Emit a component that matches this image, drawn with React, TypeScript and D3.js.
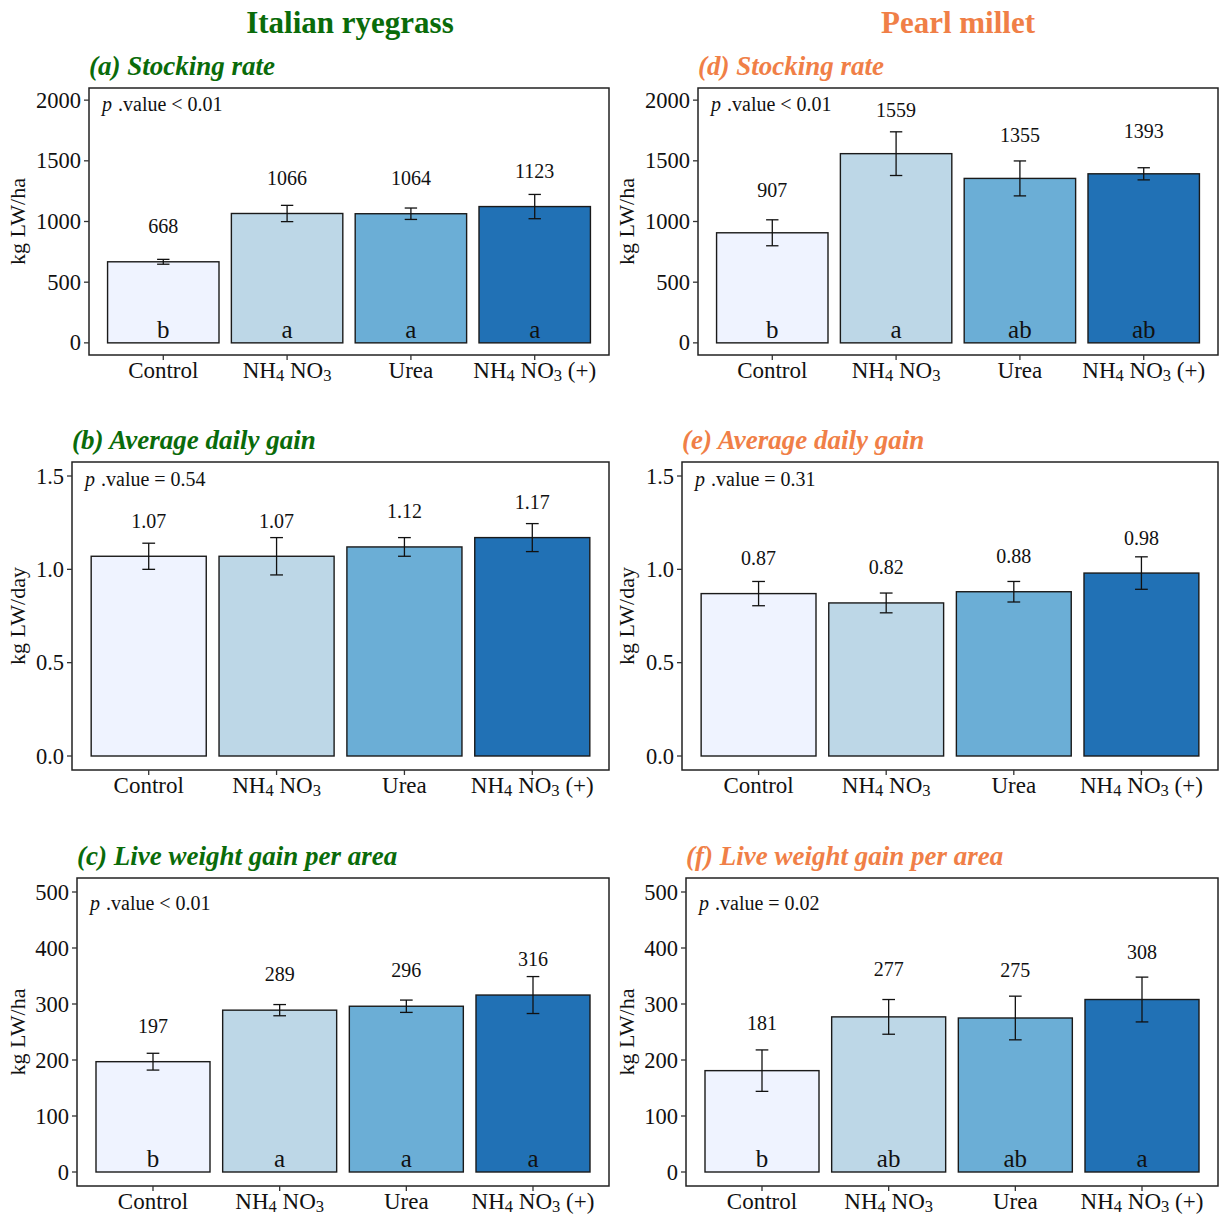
import * as d3 from "d3";

// treatments shared by every panel
const treatments = ["Control", "NH4 NO3", "Urea", "NH4 NO3 (+)"];
const fills = ["#EFF3FF", "#BDD7E7", "#6BAED6", "#2171B5"];

// Italian ryegrass
const ryeStockMean = [668, 1066, 1064, 1123];
const ryeStockSe = [20, 67, 47, 100];
const ryeStockLetters = ["b", "a", "a", "a"];
const ryeAdgMean = [1.07, 1.07, 1.12, 1.17];
const ryeAdgSe = [0.07, 0.1, 0.05, 0.075];
const ryeGainMean = [197, 289, 296, 316];
const ryeGainSe = [15, 10, 11, 33];
const ryeGainLetters = ["b", "a", "a", "a"];

// Pearl millet
const milletStockMean = [907, 1559, 1355, 1393];
const milletStockSe = [107, 180, 144, 50];
const milletStockLetters = ["b", "a", "ab", "ab"];
const milletAdgMean = [0.87, 0.82, 0.88, 0.98];
const milletAdgSe = [0.065, 0.053, 0.055, 0.087];
const milletGainMean = [181, 277, 275, 308];
const milletGainSe = [37, 31, 39, 40];
const milletGainLetters = ["b", "ab", "ab", "a"];

const stockTicks = [0, 500, 1000, 1500, 2000];
const adgTicks = [0, 0.5, 1.0, 1.5];
const gainTicks = [0, 100, 200, 300, 400, 500];

const GREEN = "#0a6b0a";
const ORANGE = "#f07f47";
const FONT = "'Liberation Serif', 'Times New Roman', serif";

const panels = [
  { title: "(a) Stocking rate", color: GREEN, mean: ryeStockMean, se: ryeStockSe, letters: ryeStockLetters,
    ticks: stockTicks, tickFmt: "d", valFmt: "d", pval: "< 0.01", pY: 1965, labelOff: 293, ylab: "kg LW/ha",
    left: 89, right: 609, top: 88, bottom: 355, ylabX: 17 },
  { title: "(b) Average daily gain", color: GREEN, mean: ryeAdgMean, se: ryeAdgSe, letters: null,
    ticks: adgTicks, tickFmt: ".1f", valFmt: ".2f", pval: "= 0.54", pY: 1.483, labelOff: 0.19, ylab: "kg LW/day",
    left: 72, right: 609, top: 462, bottom: 770, ylabX: 17 },
  { title: "(c) Live weight gain per area", color: GREEN, mean: ryeGainMean, se: ryeGainSe, letters: ryeGainLetters,
    ticks: gainTicks, tickFmt: "d", valFmt: "d", pval: "< 0.01", pY: 480, labelOff: 64, ylab: "kg LW/ha",
    left: 77, right: 609, top: 878, bottom: 1186, ylabX: 17 },
  { title: "(d) Stocking rate", color: ORANGE, mean: milletStockMean, se: milletStockSe, letters: milletStockLetters,
    ticks: stockTicks, tickFmt: "d", valFmt: "d", pval: "< 0.01", pY: 1965, labelOff: 356, ylab: "kg LW/ha",
    left: 698, right: 1218, top: 88, bottom: 355, ylabX: 626 },
  { title: "(e) Average daily gain", color: ORANGE, mean: milletAdgMean, se: milletAdgSe, letters: null,
    ticks: adgTicks, tickFmt: ".1f", valFmt: ".2f", pval: "= 0.31", pY: 1.483, labelOff: 0.19, ylab: "kg LW/day",
    left: 682, right: 1218, top: 462, bottom: 770, ylabX: 626 },
  { title: "(f) Live weight gain per area", color: ORANGE, mean: milletGainMean, se: milletGainSe, letters: milletGainLetters,
    ticks: gainTicks, tickFmt: "d", valFmt: "d", pval: "= 0.02", pY: 480, labelOff: 85, ylab: "kg LW/ha",
    left: 686, right: 1218, top: 878, bottom: 1186, ylabX: 626 },
];

// split "NH4 NO3" into pieces so the digits become subscripts
function Chem({ label }: { label: string }) {
  const parts = label.split(/(\d)/).filter((s) => s !== "");
  return (
    <>
      {parts.map((s, i) =>
        /\d/.test(s) ? (
          <tspan key={i} fontSize="0.72em" dy="3">{s}</tspan>
        ) : (
          <tspan key={i} dy={i > 0 && /\d/.test(parts[i - 1]) ? -3 : 0}>{s}</tspan>
        )
      )}
    </>
  );
}

function Panel({ p }: { p: any }) {
  const max = p.ticks[p.ticks.length - 1];
  const x = d3.scaleBand().domain(treatments).range([p.left, p.right]).paddingInner(0.1).paddingOuter(0.15);
  const y = d3.scaleLinear().domain([-0.05 * max, 1.05 * max]).range([p.bottom, p.top]);
  const tickFmt = d3.format(p.tickFmt);
  const valFmt = d3.format(p.valFmt);
  const cap = x.step() * 0.05;

  return (
    <g fontFamily={FONT}>
      <text x={p.left} y={p.top - 13} fill={p.color} fontSize={27} fontWeight="bold" fontStyle="italic">
        {p.title}
      </text>

      {treatments.map((t, i) => {
        const cx = x(t)! + x.bandwidth() / 2;
        const m = p.mean[i];
        const s = p.se[i];
        return (
          <g key={t}>
            <rect x={x(t)} y={y(m)} width={x.bandwidth()} height={y(0) - y(m)}
              fill={fills[i]} stroke="#1a1a1a" strokeWidth={1.4} />
            <line x1={cx} x2={cx} y1={y(m - s)} y2={y(m + s)} stroke="#111" strokeWidth={1.3} />
            <line x1={cx - cap} x2={cx + cap} y1={y(m - s)} y2={y(m - s)} stroke="#111" strokeWidth={1.3} />
            <line x1={cx - cap} x2={cx + cap} y1={y(m + s)} y2={y(m + s)} stroke="#111" strokeWidth={1.3} />
            <text x={cx} y={y(m + p.labelOff)} textAnchor="middle" dominantBaseline="central" fontSize={20} fill="#111">
              {valFmt(m)}
            </text>
            {p.letters && (
              <text x={cx} y={y(0) - 5} textAnchor="middle" fontSize={25} fill="#111">
                {p.letters[i]}
              </text>
            )}
          </g>
        );
      })}

      <rect x={p.left} y={p.top} width={p.right - p.left} height={p.bottom - p.top}
        fill="none" stroke="#222" strokeWidth={1.5} />

      {p.ticks.map((t: number) => (
        <g key={t}>
          <line x1={p.left - 5} x2={p.left} y1={y(t)} y2={y(t)} stroke="#333" strokeWidth={1.3} />
          <text x={p.left - 8} y={y(t)} textAnchor="end" dominantBaseline="central" fontSize={22.5} fill="#111">
            {tickFmt(t)}
          </text>
        </g>
      ))}

      {treatments.map((t) => {
        const cx = x(t)! + x.bandwidth() / 2;
        return (
          <g key={t}>
            <line x1={cx} x2={cx} y1={p.bottom} y2={p.bottom + 5} stroke="#333" strokeWidth={1.3} />
            <text x={cx} y={p.bottom + 23} textAnchor="middle" fontSize={23} fill="#111">
              <Chem label={t} />
            </text>
          </g>
        );
      })}

      <text transform={`translate(${p.ylabX},${(p.top + p.bottom) / 2}) rotate(-90)`}
        textAnchor="middle" dominantBaseline="central" fontSize={22} fill="#111">
        {p.ylab}
      </text>

      <text x={p.left + 13} y={y(p.pY)} dominantBaseline="central" fontSize={20} fill="#111">
        <tspan fontStyle="italic">p</tspan>
        <tspan dx={6}>.value {p.pval}</tspan>
      </text>
    </g>
  );
}

export default function App() {
  return (
    <svg width={1219} height={1216} style={{ position: "absolute", left: 0, top: 0, background: "#fff" }}>
      <rect width={1219} height={1216} fill="#fff" />
      <text x={350} y={33} textAnchor="middle" fontFamily={FONT} fontSize={31} fontWeight="bold" fill={GREEN}>
        Italian ryegrass
      </text>
      <text x={958} y={33} textAnchor="middle" fontFamily={FONT} fontSize={31} fontWeight="bold" fill={ORANGE}>
        Pearl millet
      </text>
      {panels.map((p) => (
        <Panel key={p.title} p={p} />
      ))}
    </svg>
  );
}
